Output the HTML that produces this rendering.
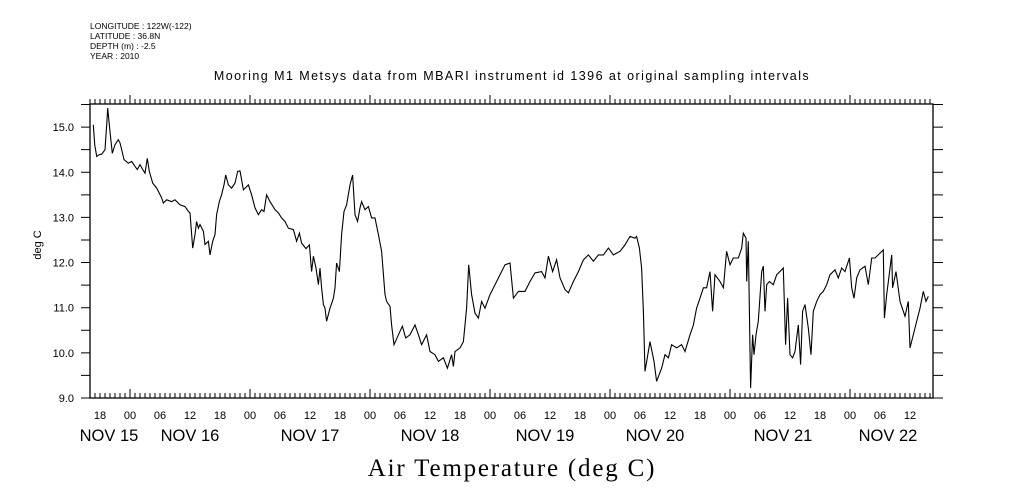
<!DOCTYPE html>
<html><head><meta charset="utf-8"><style>
body{margin:0;background:#fff}
svg{display:block}
text{font-family:"Liberation Sans","DejaVu Sans",sans-serif;fill:#000}
</style></head><body>
<svg id="chart" width="1009" height="504" viewBox="0 0 1009 504" xmlns="http://www.w3.org/2000/svg">
<g font-size="8.5">
<text x="90" y="29">LONGITUDE : 122W(-122)</text>
<text x="90" y="39">LATITUDE : 36.8N</text>
<text x="90" y="49">DEPTH (m) : -2.5</text>
<text x="90" y="59">YEAR : 2010</text>
</g>
<text x="512" y="80" text-anchor="middle" font-size="12.5" letter-spacing="1.45">Mooring M1 Metsys data from MBARI instrument id 1396 at original sampling intervals</text>
<text transform="translate(41,245) rotate(-90)" text-anchor="middle" font-size="11">deg C</text>
<text x="512" y="476" text-anchor="middle" font-size="25" letter-spacing="1.8" style="font-family:'Liberation Serif',serif">Air Temperature (deg C)</text>
<rect x="90" y="104" width="843" height="294" fill="none" stroke="#000" stroke-width="1.3"/>
<g id="axes"></g>
<g id="series"></g>
</svg>
<script>
// hours since Nov 15 16:00
const hours=[0.67,0.93,1.33,1.87,2.33,3.0,3.33,3.53,4.0,4.47,5.0,5.67,6.0,6.33,6.8,7.67,8.33,9.0,9.47,10.0,10.53,11.0,11.47,11.87,12.53,13.33,14.33,14.67,15.33,16.33,17.0,18.0,19.0,19.67,20.0,20.53,21.0,21.33,21.67,22.0,22.67,23.0,23.67,24.0,24.53,25.0,25.33,25.87,26.33,26.8,27.13,27.67,28.33,29.0,29.53,30.0,30.67,31.67,32.33,33.0,33.67,34.33,34.8,35.33,36.0,37.0,37.67,38.33,39.0,39.67,40.67,41.33,41.87,42.33,43.2,43.87,44.33,44.67,45.2,45.67,46.0,46.33,46.67,47.0,47.33,48.0,48.67,49.0,49.33,49.87,50.33,50.8,51.33,52.0,52.53,53.0,53.53,54.0,54.33,55.0,55.67,56.33,57.0,57.67,58.33,59.0,59.33,60.0,
60.33,60.8,61.67,62.47,63.13,64.0,65.0,65.67,66.33,67.33,68.0,69.0,69.67,70.67,71.47,72.33,72.67,73.0,74.0,74.67,75.33,75.73,76.33,77.0,77.67,78.33,79.0,80.0,81.0,82.0,83.0,84.0,84.67,85.67,87.0,88.0,89.0,90.33,91.0,91.67,92.53,93.33,94.0,95.0,95.67,96.67,97.67,98.67,99.67,100.67,101.67,102.67,103.67,104.67,106.0,107.0,108.0,109.0,109.33,109.87,110.33,110.67,111.0,112.0,
112.8,113.33,114.33,115.0,115.67,116.33,117.33,118.33,119.0,120.0,120.67,121.33,122.0,122.67,123.33,124.0,124.53,125.0,126.0,126.67,127.33,128.0,128.67,129.67,130.33,130.67,131.2,131.33,131.67,132.13,132.53,132.8,133.2,133.67,134.33,134.67,135.0,135.33,135.87,136.67,137.33,138.33,138.67,138.87,139.13,139.53,140.0,140.53,141.0,141.67,142.13,142.53,143.0,143.67,144.2,144.67,145.33,146.0,146.67,147.33,148.0,149.0,149.67,150.33,151.0,151.87,152.33,152.8,153.33,154.0,155.0,155.67,156.33,157.0,158.0,158.67,158.87,159.33,160.33,160.53,161.2,162.0,163.0,163.67,164.0,164.67,165.33,166.0,166.67,167.2,167.67];
const temps=[15.05,14.61,14.35,14.39,14.40,14.50,15.05,15.42,14.90,14.42,14.61,14.72,14.65,14.50,14.28,14.20,14.24,14.13,14.06,14.17,14.06,13.98,14.31,14.02,13.76,13.65,13.43,13.32,13.39,13.35,13.39,13.28,13.24,13.13,13.10,12.32,12.62,12.91,12.76,12.84,12.69,12.40,12.47,12.17,12.47,12.62,13.06,13.35,13.50,13.72,13.94,13.72,13.65,13.76,14.02,14.03,13.61,13.72,13.50,13.21,13.06,13.17,13.13,13.50,13.35,13.17,13.10,12.99,12.91,12.76,12.73,12.47,12.65,12.43,12.31,12.39,11.80,12.14,11.88,11.51,11.88,11.44,11.07,10.99,10.70,10.99,11.21,11.44,11.99,11.80,12.62,13.13,13.28,13.72,13.94,13.06,12.91,13.21,13.35,13.17,13.24,12.99,12.99,12.62,12.25,11.29,11.14,11.03,
10.62,10.18,10.40,10.59,10.33,10.40,10.62,10.40,10.18,10.40,10.03,9.96,9.81,9.89,9.66,9.96,9.70,10.03,10.11,10.25,10.99,11.95,11.29,10.88,10.77,11.14,10.99,11.29,11.51,11.73,11.95,11.99,11.21,11.36,11.36,11.58,11.77,11.80,11.66,12.14,11.80,12.06,11.66,11.40,11.33,11.58,11.80,12.06,12.17,12.03,12.17,12.17,12.32,12.17,12.25,12.39,12.58,12.54,12.58,12.32,11.88,10.92,9.59,10.25,
9.81,9.37,9.66,9.96,9.89,10.18,10.11,10.18,10.03,10.40,10.62,10.99,11.21,11.44,11.44,11.80,10.92,11.73,11.58,11.44,12.25,11.95,12.10,12.10,12.32,12.65,12.54,11.58,12.47,9.22,10.40,9.96,10.40,10.70,11.80,11.92,10.92,11.51,11.58,11.51,11.73,11.84,11.88,11.07,10.18,11.21,9.96,9.89,10.03,10.62,9.74,10.92,11.07,10.55,9.96,10.92,11.14,11.29,11.36,11.51,11.73,11.84,11.66,11.88,11.80,12.10,11.44,11.21,11.66,11.84,11.92,11.51,12.10,12.10,12.21,12.28,10.77,11.29,12.17,11.44,11.80,11.14,10.81,11.14,10.11,10.40,10.70,10.99,11.36,11.14,11.25];
const yTicks=[9.0,10.0,11.0,12.0,13.0,14.0,15.0];
const hourLabels=["18","00","06","12"];
const dateLabels=["NOV 15","NOV 16","NOV 17","NOV 18","NOV 19","NOV 20","NOV 21","NOV 22"];
const dateCenters=[109,190,310,430,545,655,783,888];

const NS='http://www.w3.org/2000/svg';
const X0=90,X1=933,Y0=398,Y1=104;
const xs=h=>X0+h*5;
const ys=v=>398-(v-9)*45.15;
const axes=document.getElementById('axes');
function mk(tag,at,parent){const e=document.createElementNS(NS,tag);for(const k in at)e.setAttribute(k,at[k]);parent.appendChild(e);return e;}
let d='';
for(let h=0;h<=168;h++){const x=xs(h);if(x>X1)break;const major=((h-8)%24===0);
 d+=`M${x} ${Y1}V${Y1-(major?9:5)}M${x} ${Y0}V${Y0-(major?9:5)}`;}
for(let v=9;v<=15.51;v+=0.5){const y=ys(v);d+=`M${X0} ${y}H${X0-9}M${X1} ${y}H${X1+10}`;}
const tk=mk('path',{d:d,stroke:'#000','stroke-width':1,fill:'none'},axes);


yTicks.forEach(v=>{const t=mk('text',{x:74,y:ys(v)+4,'text-anchor':'end','font-size':11},axes);t.textContent=v.toFixed(1);
 
 });
for(let k=0;;k++){const h=2+6*k;const x=xs(h);if(x>X1-10)break;const t=mk('text',{x:x,y:419,'text-anchor':'middle','font-size':11},axes);t.textContent=hourLabels[k%4];
 
 }
dateLabels.forEach((s,i)=>{const t=mk('text',{x:dateCenters[i],y:441,'text-anchor':'middle','font-size':16.5},axes);t.textContent=s;
 
 });
const pts=hours.map((h,i)=>xs(h).toFixed(1)+','+ys(temps[i]).toFixed(1)).join(' ');
const line=mk('polyline',{points:pts,fill:'none',stroke:'#000','stroke-width':1.1},document.getElementById('series'));


</script>
</body></html>
